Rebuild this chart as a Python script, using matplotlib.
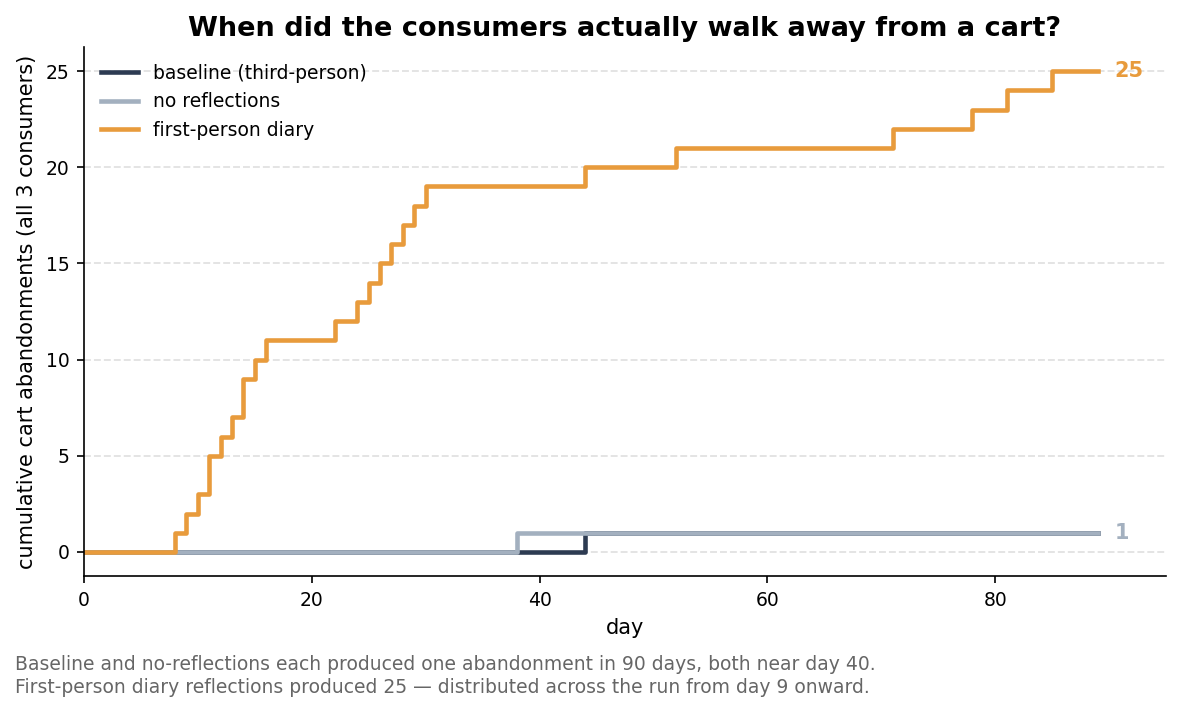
import matplotlib
matplotlib.use("Agg")
import matplotlib.pyplot as plt
import numpy as np

days = np.arange(0, 90)

# event days (step up by given amounts) per series
diary_days = [8, 9, 10, 11, 12, 13, 14, 15, 16, 22, 24, 25, 26, 27, 28, 29, 30, 44, 52, 71, 78, 81, 85]
diary_incr = [1, 1, 1, 2, 1, 1, 2, 1, 1, 1, 1, 1, 1, 1, 1, 1, 1, 1, 1, 1, 1, 1, 1]
baseline_days = [44]
baseline_incr = [1]
norefl_days = [38]
norefl_incr = [1]

series_names = ["baseline (third-person)", "no reflections", "first-person diary"]
colors = ["#2d3b52", "#a3b0bf", "#e89b3c"]


def cumulative(ev_days, incr):
    daily = np.zeros(len(days))
    for d, v in zip(ev_days, incr):
        daily[d] += v
    return np.cumsum(daily)


baseline = cumulative(baseline_days, baseline_incr)
norefl = cumulative(norefl_days, norefl_incr)
diary = cumulative(diary_days, diary_incr)

fig = plt.figure(figsize=(1181 / 150, 710 / 150), dpi=150)
ax = fig.add_axes([0.0711, 0.1887, 0.9162, 0.7451])

for y, name, c in zip([baseline, norefl, diary], series_names, colors):
    ax.step(days, y, where="post", color=c, lw=2.2, label=name)

ax.text(days[-1] + 1.5, diary[-1], f"{int(diary[-1])}", color=colors[2],
        fontsize=10, fontweight="bold", va="center", ha="left")
ax.text(days[-1] + 1.5, norefl[-1], f"{int(norefl[-1])}", color=colors[1],
        fontsize=10, fontweight="bold", va="center", ha="left")

ax.set_xlim(0, 95)
ax.set_ylim(-1.25, 26.25)
ax.set_yticks([0, 5, 10, 15, 20, 25])
ax.set_xticks([0, 20, 40, 60, 80])
ax.grid(axis="y", linestyle="--", color="#e3e3e3", lw=0.9)
ax.set_axisbelow(True)
for s in ["top", "right"]:
    ax.spines[s].set_visible(False)
ax.tick_params(labelsize=9)
ax.set_xlabel("day", fontsize=10)
ax.set_ylabel("cumulative cart abandonments (all 3 consumers)", fontsize=10)
ax.set_title("When did the consumers actually walk away from a cart?",
             fontsize=13, fontweight="bold", pad=5.5)
ax.legend(loc="upper left", frameon=False, fontsize=9, handlelength=2.0)

fig.text(0.0127, 0.019,
         "Baseline and no-reflections each produced one abandonment in 90 days, both near day 40.\n"
         "First-person diary reflections produced 25 \u2014 distributed across the run from day 9 onward.",
         color="#666666", fontsize=9, ha="left", va="bottom", linespacing=1.25)

fig.savefig("out.png", dpi=150)
